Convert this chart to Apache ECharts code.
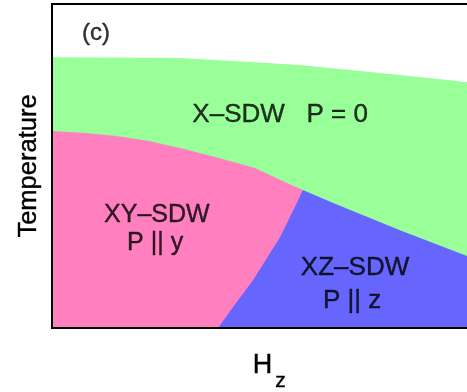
<!DOCTYPE html>
<html>
<head>
<meta charset="utf-8">
<script src="https://cdn.jsdelivr.net/npm/echarts@6/dist/echarts.min.js"></script>
<style>
  html, body { margin: 0; padding: 0; background: #fff; }
  #chart { width: 467px; height: 392px; }
</style>
</head>
<body>
<div id="chart"></div>
<script>
// Phase boundaries in (field H_z, temperature) units, both scaled 0..1.
// Upper edge of the X-SDW phase (P = 0).
const xSdwUpper = [[0, 0.836], [0.299, 0.833], [0.463, 0.821], [0.579, 0.812], [0.696, 0.796],
                   [0.813, 0.781], [0.930, 0.765], [1.0, 0.753]];
// Upper edge of the XY-SDW phase (P || y), ending at the triple point.
const xySdwUpper = [[0, 0.608], [0.077, 0.602], [0.145, 0.593], [0.227, 0.577], [0.311, 0.552],
                    [0.390, 0.525], [0.474, 0.494], [0.544, 0.451], [0.586, 0.426]];
// Upper edge of the XZ-SDW phase (P || z): XY/XZ line up to the triple point, then XZ/X line.
const xzSdwUpper = [[0.388, 0], [0.423, 0.065], [0.470, 0.148], [0.533, 0.281], [0.572, 0.386],
                    [0.586, 0.426], [0.657, 0.386], [0.813, 0.302], [0.970, 0.222], [1.0, 0.207]];

// Phase names and where they sit in the diagram.
const phaseText = ['X\u2013SDW   P = 0', 'XY\u2013SDW', 'P || y', 'XZ\u2013SDW', 'P || z', '(c)'];
const phaseTextH = [0.533, 0.245, 0.241, 0.708, 0.701, 0.103];
const phaseTextT = [0.657, 0.349, 0.262, 0.185, 0.083, 0.910];
const phaseTextSize = [26, 25, 25, 26, 26, 24];

// Axis titles: field H with subscript z, and temperature.
const fieldName = 'H';
const fieldSub = 'z';
const tempName = 'Temperature';

const phaseColors = { x: '#99ff99', xy: '#ff7fbf', xz: '#6666ff' };
const FONT = '"Liberation Sans", Arial, Helvetica, sans-serif';
const INK = { color: '#000', textBorderColor: '#000', textBorderWidth: 0.4, fontFamily: FONT };

function areaSeries(name, data, color) {
  return {
    name: name,
    type: 'line',
    data: data,
    showSymbol: false,
    symbol: 'none',
    smooth: false,
    lineStyle: { width: 0 },
    areaStyle: { color: color, opacity: 1, origin: 'start' },
    silent: true,
    z: 2
  };
}

// A bare value axis: no line, ticks or labels, only its title.
function bareXAxis(name, gap, style) {
  return {
    type: 'value', min: 0, max: 1, position: 'bottom',
    axisLine: { show: false }, axisTick: { show: false },
    axisLabel: { show: false }, splitLine: { show: false },
    name: name, nameLocation: 'middle', nameGap: gap,
    nameTextStyle: style
  };
}

const chart = echarts.init(document.getElementById('chart'), null, { renderer: 'canvas' });
chart.setOption({
  animation: false,
  backgroundColor: '#ffffff',
  // The frame runs past the right edge of the canvas, so only three sides show.
  grid: {
    left: 52, top: 4, width: 428, height: 324,
    outerBoundsMode: 'none',
    containLabel: false,
    show: true, borderColor: '#000', borderWidth: 2,
    backgroundColor: 'transparent', z: 10
  },
  xAxis: [
    bareXAxis(fieldName, 24, Object.assign({ fontSize: 27, padding: [0, 7, 0, 0] }, INK)),
    bareXAxis(fieldSub, 43, Object.assign({ fontSize: 21, padding: [0, 0, 0, 29] }, INK))
  ],
  yAxis: {
    type: 'value', min: 0, max: 1,
    axisLine: { show: false }, axisTick: { show: false },
    axisLabel: { show: false }, splitLine: { show: false },
    name: tempName,
    nameLocation: 'middle',
    nameGap: 10,
    nameTextStyle: Object.assign({ fontSize: 25.5 }, INK)
  },
  series: [
    areaSeries('X-SDW', xSdwUpper, phaseColors.x),
    areaSeries('XY-SDW', xySdwUpper, phaseColors.xy),
    areaSeries('XZ-SDW', xzSdwUpper, phaseColors.xz),
    {
      type: 'scatter',
      symbolSize: 0,
      silent: true,
      z: 5,
      data: phaseText.map((t, i) => ({
        value: [phaseTextH[i], phaseTextT[i]],
        name: t,
        label: { fontSize: phaseTextSize[i] }
      })),
      label: Object.assign({
        show: true,
        position: 'inside',
        formatter: p => p.name
      }, INK)
    }
  ]
});
</script>
</body>
</html>
